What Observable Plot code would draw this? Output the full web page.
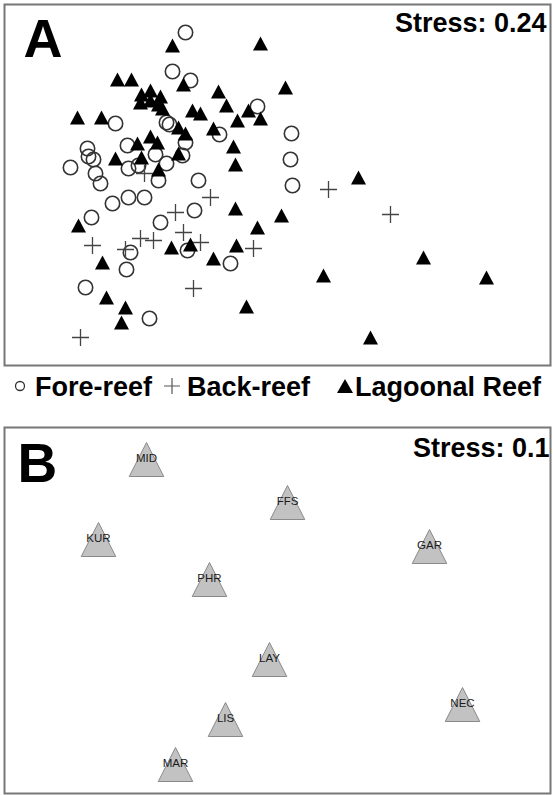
<!DOCTYPE html>
<html><head><meta charset="utf-8">
<script src="https://cdn.jsdelivr.net/npm/d3@7"></script>
<script src="https://cdn.jsdelivr.net/npm/@observablehq/plot@0.6"></script>
<style>
body{margin:0;background:#fff;font-family:"Liberation Sans",Arial,sans-serif;}
#wrap{position:relative;width:553px;height:795px;overflow:hidden;}
#a{position:absolute;left:0;top:0;}
#legend{position:absolute;left:0;top:370px;}
#b{position:absolute;left:0;top:405px;}
</style></head><body>
<div id="wrap"><div id="a"></div><div id="legend"></div><div id="b"></div></div>
<script>
// Panel A: MDS ordination (Fore-reef / Back-reef / Lagoonal Reef)
const foreX = [-0.92,-1.05,-0.87,-1.62,-1.11,-1.08,-0.20,-0.58,-0.92,-1.50,-1.90,-1.89,-1.84,-1.22,-0.95,-2.07,-1.49,-1.39,-1.11,-1.82,-1.77,-1.19,-0.79,0.14,0.13,0.15,-1.65,-1.49,-1.33,-0.83,-1.86,-1.17,-1.47,-0.90,-1.51,-0.47,-1.92,-1.28];
const foreY = [1.53,1.14,1.05,0.62,0.63,0.61,0.79,0.51,0.43,0.40,0.37,0.29,0.26,0.31,0.30,0.18,0.17,0.20,0.22,0.12,0.02,0.05,0.05,0.52,0.26,0.00,-0.18,-0.12,-0.12,-0.25,-0.32,-0.37,-0.67,-0.65,-0.84,-0.78,-1.02,-1.33];
const backX = [-1.33,-0.67,0.51,-1.02,1.13,-0.94,-1.85,-1.37,-1.24,-1.52,-0.77,-0.24,-0.84,-1.97];
const backY = [0.12,-0.12,-0.04,-0.27,-0.29,-0.47,-0.60,-0.53,-0.55,-0.64,-0.57,-0.63,-1.03,-1.52];
const lagoonX = [-1.05,-0.17,-0.94,-1.60,-1.46,-0.59,0.08,-1.36,-1.27,-1.17,-1.37,-1.27,-1.19,-1.15,-2.00,-1.76,-0.85,-0.77,-0.51,-0.29,-0.40,-0.17,-0.99,-0.64,-0.92,-1.27,-1.40,-1.20,-0.44,-1.62,-1.36,-0.99,-0.42,-1.19,0.81,-0.42,-1.99,0.04,-0.20,-1.06,-0.87,-0.41,-1.75,-0.64,1.46,0.46,2.09,-1.71,-1.52,-1.56,-0.31,0.93];
const lagoonY = [1.40,1.42,1.01,1.06,1.06,0.94,0.98,0.91,0.95,0.89,0.83,0.85,0.81,0.77,0.68,0.68,0.75,0.72,0.80,0.75,0.65,0.67,0.58,0.57,0.52,0.49,0.42,0.43,0.39,0.27,0.28,0.32,0.21,0.16,0.08,-0.23,-0.40,-0.30,-0.42,-0.62,-0.59,-0.60,-0.77,-0.73,-0.72,-0.90,-0.92,-1.12,-1.22,-1.37,-1.21,-1.52];
const stressA = "Stress: 0.24";
const legendLabels = ["Fore-reef","Back-reef","Lagoonal Reef"];

// Panel B: site centroids
const siteNames = ["MID","FFS","KUR","GAR","PHR","LAY","LIS","MAR","NEC"];
const siteX = [-1.31,0.10,-1.79,1.52,-0.68,-0.08,-0.52,-1.02,1.85];
const siteY = [1.52,1.09,0.72,0.65,0.32,-0.48,-1.08,-1.53,-0.93];
const stressB = "Stress: 0.1";

const FONT = '"Liberation Sans", Arial, sans-serif';
const fore = foreX.map((x,i)=>({x, y: foreY[i]}));
const back = backX.map((x,i)=>({x, y: backY[i]}));
const lagoon = lagoonX.map((x,i)=>({x, y: lagoonY[i]}));
const sites = siteNames.map((name,i)=>({name, x: siteX[i], y: siteY[i]}));

const triSmall = {draw(c){ c.moveTo(0,-7); c.lineTo(7.5,7); c.lineTo(-7.5,7); c.closePath(); }};
const plusSym = {draw(c){ c.moveTo(-8.5,0); c.lineTo(8.5,0); c.moveTo(0,-8.5); c.lineTo(0,8.5); }};
const triBig = {draw(c){ c.moveTo(0,-16); c.lineTo(17.25,18); c.lineTo(-17.25,18); c.closePath(); }};

const plotA = Plot.plot({
  width: 553, height: 370,
  marginTop: 4, marginLeft: 4, marginRight: 3, marginBottom: 5,
  style: {fontFamily: FONT, background: "white"},
  x: {domain: [-2.73, 2.73], axis: null},
  y: {domain: [-1.80, 1.81], axis: null},
  marks: [
    Plot.frame({stroke: "#777", strokeWidth: 2}),
    Plot.dot(fore, {x: "x", y: "y", r: 7.2, stroke: "#333", strokeWidth: 1.6, fill: "none"}),
    Plot.dot(back, {x: "x", y: "y", symbol: plusSym, stroke: "#444", strokeWidth: 1.3, fill: "none"}),
    Plot.dot(lagoon, {x: "x", y: "y", symbol: triSmall, fill: "#000", stroke: "none"}),
    Plot.text(["A"], {text: d=>d, frameAnchor: "top-left", textAnchor: "start", lineAnchor: "top", dx: 19, dy: 14, fontSize: 54, fontWeight: "bold", fill: "#000"}),
    Plot.text([stressA], {text: d=>d, frameAnchor: "top-right", textAnchor: "end", lineAnchor: "top", dx: -4, dy: 8, fontSize: 27, fontWeight: "bold", fill: "#000"})
  ]
});
document.getElementById("a").appendChild(plotA);

// Legend
const lg = d3.select("#legend").append("svg").attr("width",553).attr("height",35).style("font-family",FONT);
lg.append("circle").attr("cx",20).attr("cy",16).attr("r",4.5).attr("fill","none").attr("stroke","#333").attr("stroke-width",1.3);
lg.append("path").attr("d","M164,16H180M172,8V24").attr("stroke","#555").attr("stroke-width",1.2);
lg.append("path").attr("d","M345,9L353,23L337,23Z").attr("fill","#000");
const lx = [35,187,355];
legendLabels.forEach((t,i)=>{
  lg.append("text").attr("x",lx[i]).attr("y",26).attr("font-size",27).attr("font-weight","bold").attr("fill","#000").text(t);
});

const plotB = Plot.plot({
  width: 553, height: 390,
  marginTop: 22, marginLeft: 4, marginRight: 3, marginBottom: 2,
  style: {fontFamily: FONT, background: "white"},
  x: {domain: [-2.73, 2.73], axis: null},
  y: {domain: [-1.83, 1.83], axis: null},
  marks: [
    Plot.frame({stroke: "#777", strokeWidth: 2}),
    Plot.dot(sites, {x: "x", y: "y", symbol: triBig, fill: "#c2c2c2", stroke: "#8a8a8a", strokeWidth: 1}),
    Plot.text(sites, {x: "x", y: "y", text: "name", fontSize: 11.5, fill: "#1a1a1a", textAnchor: "middle", lineAnchor: "middle"}),
    Plot.text(["B"], {text: d=>d, frameAnchor: "top-left", textAnchor: "start", lineAnchor: "top", dx: 13, dy: 15, fontSize: 55, fontWeight: "bold", fill: "#000"}),
    Plot.text([stressB], {text: d=>d, frameAnchor: "top-right", textAnchor: "end", lineAnchor: "top", dx: -1, dy: 10, fontSize: 27, fontWeight: "bold", fill: "#000"})
  ]
});
document.getElementById("b").appendChild(plotB);
</script>
</body></html>
